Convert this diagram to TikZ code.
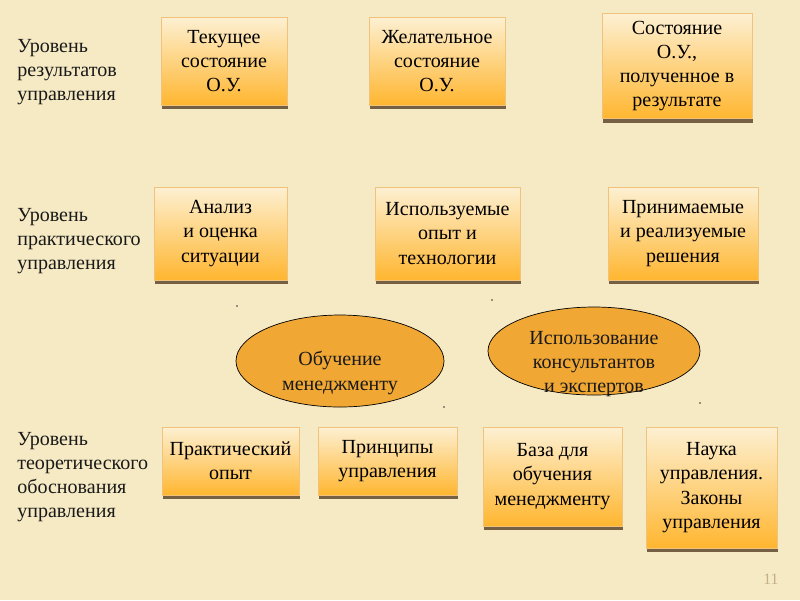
\documentclass[tikz,border=0pt]{standalone}
\usepackage{fontspec}
\setmainfont{Liberation Serif}
\usetikzlibrary{shapes.geometric}
\usetikzlibrary{shadows}
\definecolor{slide-bg}{HTML}{F6EAC4}
\definecolor{box-top}{HTML}{FDF0D2}
\definecolor{box-bottom}{HTML}{FFB630}
\definecolor{box-edge}{HTML}{F0C27C}
\definecolor{oval-fill}{HTML}{F0A733}
\definecolor{num-gray}{HTML}{C4AF86}

\begin{document}
\begin{tikzpicture}[x=0.02cm, y=-0.02cm, font=\fontsize{11.4}{13.8}\selectfont,
  level box/.style={draw=box-edge, top color=box-top, bottom color=box-bottom,
    align=center, inner sep=2pt,
    drop shadow={shadow xshift=0.6pt, shadow yshift=-2.4pt, fill=black!60!brown, opacity=0.75}},
  oval/.style={draw=black, thin, fill=oval-fill, ellipse, inner sep=0pt},
  text only/.style={inner sep=0pt, align=center, text=black!90}]
\pgfmathsetmacro{\px}{0.02}
% slide
\fill[slide-bg] (0,0) rectangle (800,600);
\useasboundingbox (0,0) rectangle (800,600);
% level captions
\foreach \name/\cy/\caption in {
    res/72/Уровень\\результатов\\управления,
    prac/241/Уровень\\практического\\управления,
    theo/477/Уровень\\теоретического\\обоснования\\управления} {
  \node[text only, align=left, anchor=west]
    (level-\name)
    at (17, \cy)
    {\caption};
}
% boxes
\foreach \name/\cx/\cy/\w/\h/\phrase in {
    cur/224/61/126/88/Текущее\\состояние\\О.У.,
    want/437/61/136/88/Желательное\\состояние\\О.У.,
    got/677/66/150/105/Состояние\\О.У.{,}\\полученное в\\результате,
    anal/220.5/233.5/133/93/Анализ\\и оценка\\ситуации,
    tech/447.5/233.5/145/93/Используемые\\опыт и\\технологии,
    dec/683/233.5/150/93/Принимаемые\\и реализуемые\\решения,
    exp/230.5/461/137/68/Практический\\опыт,
    prin/387.5/461/139/68/Принципы\\управления,
    base/552.5/476.5/139/99/База для\\обучения\\менеджменту,
    sci/711.5/487.5/131/121/Наука\\управления.\\Законы\\управления} {
  \node[level box, minimum width=\w*\px cm, minimum height=\h*\px cm]
    (box-\name)
    at (\cx, \cy)
    {\phrase};
}
% ovals
\node[oval, minimum width=208*\px cm, minimum height=92*\px cm]
  (oval-learn)
  at (340, 361)
  {};
\node[text only]
  (learn)
  at ([yshift=-12*\px cm]oval-learn.center)
  {Обучение\\менеджменту};
\node[oval, minimum width=212*\px cm, minimum height=88*\px cm]
  (oval-cons)
  at (594, 351)
  {};
\node[text only]
  (cons)
  at ([yshift=-13*\px cm]oval-cons.center)
  {Использование\\консультантов\\и экспертов};
% stray marks
\foreach \dx/\dy in {237/306, 444/407, 492/300, 700/403}
  \fill[black!80] (\dx, \dy) circle[radius=0.45pt];
\node[text only, text=num-gray, font=\fontsize{9}{10}\selectfont]
  (page)
  at (771, 579)
  {11};
\end{tikzpicture}
\end{document}
